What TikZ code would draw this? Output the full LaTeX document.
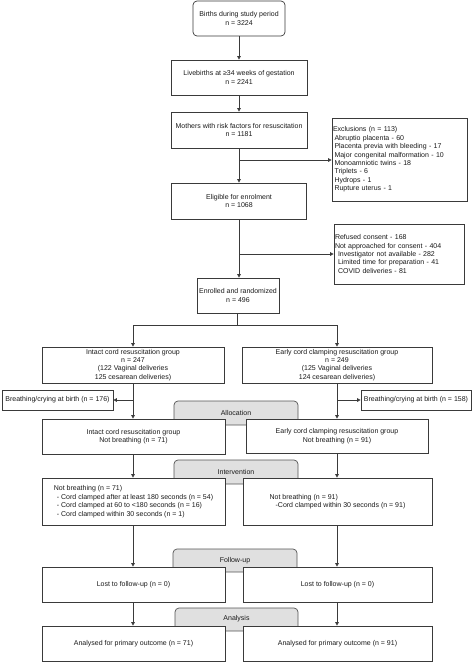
\documentclass[tikz,border=0pt]{standalone}
\usepackage{fontspec}
\setmainfont{Liberation Sans}
\usetikzlibrary{arrows.meta}
\definecolor{ln}{HTML}{3A3A3A}
\definecolor{tx}{HTML}{1A1A1A}
\definecolor{gfill}{HTML}{E0E0E0}
\definecolor{gline}{HTML}{555555}
\begin{document}
\begin{tikzpicture}[x=1pt,y=-1pt,
  box/.style={draw=ln, fill=white, line width=0.7pt, inner sep=0pt, align=center, text=tx,
     font=\fontsize{7}{8.6}\selectfont},
  rbox/.style={box, rounded corners=4pt},
  lbox/.style={box, align=left, inner xsep=1pt},
  gbox/.style={draw=gline, fill=gfill, line width=0.7pt, rounded corners=4pt, inner sep=0pt,
     text=tx, font=\fontsize{7}{8.6}\selectfont},
  arr/.style={draw=ln, line width=0.7pt, -{Triangle[length=3.5pt,width=3.5pt]}},
  ln/.style={draw=ln, line width=0.7pt}]
\useasboundingbox (0,0) rectangle (474,662);

% gray phase labels (behind)
\node[gbox, minimum width=124, minimum height=24] (alloc) at (236,413) {};
\node[tx, font=\fontsize{7}{8.6}\selectfont, inner sep=0pt] (allocT) at (236,413) {Allocation};
\node[gbox, minimum width=124, minimum height=24] (interv) at (236,472) {};
\node[tx, font=\fontsize{7}{8.6}\selectfont, inner sep=0pt] (intervT) at (236,472) {Intervention};
\node[gbox, minimum width=124, minimum height=23] (follow) at (235,560.5) {};
\node[tx, font=\fontsize{7}{8.6}\selectfont, inner sep=0pt] (followT) at (235,561) {Follow-up};
\node[gbox, minimum width=123, minimum height=23] (anal) at (236.5,619.5) {};
\node[tx, font=\fontsize{7}{8.6}\selectfont, inner sep=0pt] (analT) at (236.5,619) {Analysis};

% top chain
\node[rbox, minimum width=92, minimum height=35] (b1) at (239,18.5) {Births during study period\\n = 3224};
\node[box, minimum width=136, minimum height=35] (b2) at (239,77.5) {Livebirths at ≥34 weeks of gestation\\n = 2241};
\node[box, minimum width=136, minimum height=36] (b3) at (239,130) {Mothers with risk factors for resuscitation\\n = 1181};
\node[lbox, minimum width=135, minimum height=83, text width=133, font=\fontsize{7}{8.4}\selectfont] (excl) at (399.5,159.5)
  {Exclusions (n = 113)\\
   \hspace{1.5pt}Abruptio placenta - 60\\
   \hspace{1.5pt}Placenta previa with bleeding - 17\\
   \hspace{1.5pt}Major congenital malformation - 10\\
   \hspace{1.5pt}Monoamniotic twins - 18\\
   \hspace{1.5pt}Triplets - 6\\
   \hspace{1.5pt}Hydrops - 1\\
   \hspace{1.5pt}Rupture uterus - 1};
\node[box, minimum width=135, minimum height=36] (b4) at (239,201) {Eligible for enrolment\\n = 1068};
\node[lbox, minimum width=130, minimum height=60, text width=128, font=\fontsize{7}{8.4}\selectfont] (refu) at (399,254)
  {Refused consent - 168\\
   Not approached for consent - 404\\
   \hspace{3pt}Investigator not available - 282\\
   \hspace{3pt}Limited time for preparation - 41\\
   \hspace{3pt}COVID deliveries - 81};
\node[box, minimum width=82, minimum height=35] (b5) at (238,295.5) {Enrolled and randomized\\n = 496};

% groups
\node[box, minimum width=182, minimum height=36, font=\fontsize{7}{8.3}\selectfont] (gL) at (133,365)
  {Intact cord resuscitation group\\n = 247\\(122 Vaginal deliveries\\125 cesarean deliveries)};
\node[box, minimum width=190, minimum height=36, font=\fontsize{7}{8.3}\selectfont] (gR) at (337,365)
  {Early cord clamping resuscitation group\\n = 249\\(125 Vaginal deliveries\\124 cesarean deliveries)};
\node[box, minimum width=111, minimum height=20] (brL) at (57.5,400) {Breathing/crying at birth (n = 176)};
\node[box, minimum width=110, minimum height=20] (brR) at (416,400) {Breathing/crying at birth (n = 158)};

\node[box, minimum width=183, minimum height=35] (iL) at (133.5,436.5) {Intact cord resuscitation group\\Not breathing (n = 71)};
\node[box, minimum width=182, minimum height=34] (iR) at (337,436) {Early cord clamping resuscitation group\\Not breathing (n = 91)};

\node[box, align=left, minimum width=183, minimum height=47] (nL) at (133.5,501.5)
  {Not breathing (n = 71)\\
   \hspace{3pt}- Cord clamped after at least 180 seconds (n = 54)\\
   \hspace{3pt}- Cord clamped at 60 to <180 seconds (n = 16)\\
   \hspace{3pt}- Cord clamped within 30 seconds (n = 1)};
\node[box, align=left, minimum width=189, minimum height=47] (nR) at (337.5,501.5)
  {Not breathing (n = 91)\\
   \hspace{6pt}-Cord clamped within 30 seconds (n = 91)};

\node[box, minimum width=183, minimum height=35] (lL) at (133.5,584.5) {Lost to follow-up (n = 0)};
\node[box, minimum width=189, minimum height=35] (lR) at (337.5,584.5) {Lost to follow-up (n = 0)};
\node[box, minimum width=183, minimum height=35] (aL) at (133.5,643.5) {Analysed for primary outcome (n = 71)};
\node[box, minimum width=189, minimum height=35] (aR) at (337.5,643.5) {Analysed for primary outcome (n = 91)};

% connectors
\draw[arr] (b1) -- (b2);
\draw[arr] (b2) -- (b3);
\draw[arr] (b3.south) -- (b3.south |- b4.north);
\coordinate (j1) at (239,160);
\draw[arr] (j1) -- (j1 -| excl.west);
\draw[arr] (b4.south) -- (b4.south |- b5.north);
\coordinate (j2) at (239,254);
\draw[arr] (j2) -- (j2 -| refu.west);
\coordinate (j3) at (237,325);
\draw[ln] (b5.south -| j3) -- (j3);
\coordinate (jL) at (133,325);
\coordinate (jR) at (337,325);
\draw[ln] (jL) -- (jR);
\draw[arr] (jL) -- (jL |- gL.north);
\draw[arr] (jR) -- (jR |- gR.north);
\coordinate (kL) at (133,400);
\coordinate (kR) at (337,400);
\draw[arr] (gL.south -| kL) -- (kL |- iL.north);
\draw[arr] (kL) -- (brL.east);
\draw[arr] (gR.south -| kR) -- (kR |- iR.north);
\draw[arr] (kR) -- (brR.west);
\draw[arr] (iL.south -| kL) -- (kL |- nL.north);
\draw[arr] (iR.south -| kR) -- (kR |- nR.north);
\draw[arr] (nL.south -| kL) -- (kL |- lL.north);
\draw[arr] (nR.south -| kR) -- (kR |- lR.north);
\draw[arr] (lL.south -| kL) -- (kL |- aL.north);
\draw[arr] (lR.south -| kR) -- (kR |- aR.north);
\end{tikzpicture}
\end{document}
